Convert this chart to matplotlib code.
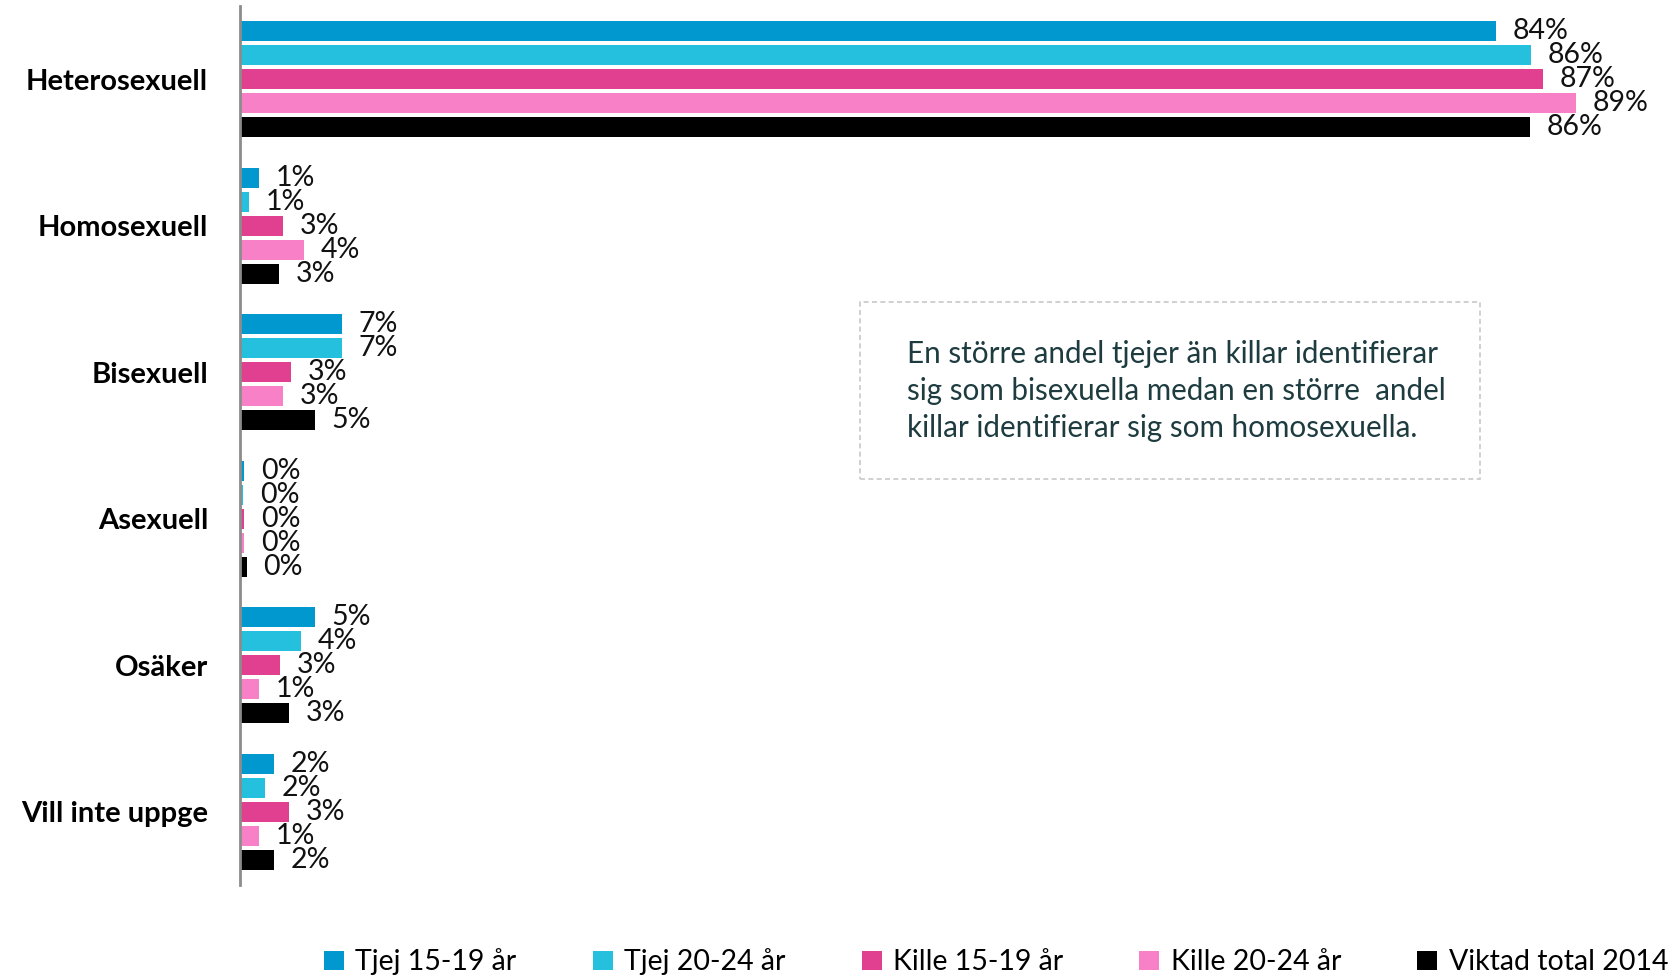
import numpy as np
import matplotlib.pyplot as plt
from matplotlib.patches import FancyBboxPatch

categories = ["Heterosexuell", "Homosexuell", "Bisexuell", "Asexuell", "Osäker", "Vill inte uppge"]
series = ["Tjej 15-19 år", "Tjej 20-24 år", "Kille 15-19 år", "Kille 20-24 år", "Viktad total 2014"]

tjej_15_19 = [84.0, 1.3, 6.8, 0.3, 5.0, 2.3]
tjej_20_24 = [86.4, 0.6, 6.8, 0.2, 4.1, 1.7]
kille_15_19 = [87.2, 2.9, 3.4, 0.3, 2.7, 3.3]
kille_20_24 = [89.4, 4.3, 2.9, 0.3, 1.3, 1.3]
viktad_total = [86.3, 2.6, 5.0, 0.45, 3.3, 2.3]

colors = ["#0098CF", "#25C0DD", "#E0408F", "#F780C6", "#000000"]
note = ("En större andel tjejer än killar identifierar\n"
        "sig som bisexuella medan en större  andel\n"
        "killar identifierar sig som homosexuella.")

plt.rcParams['font.family'] = ['Lato', 'DejaVu Sans']

fig = plt.figure(figsize=(16.81, 9.8), dpi=100)
ax = fig.add_axes([240 / 1681, 1 - 885 / 980, 1420 / 1681, 879 / 980])

data = [tjej_15_19, tjej_20_24, kille_15_19, kille_20_24, viktad_total]
y = np.arange(len(categories))
step = 24 / 147
height = 20 / 147
for i, (vals, name, col) in enumerate(zip(data, series, colors)):
    pos = y + (i - 2) * step
    bars = ax.barh(pos, vals, height=height, color=col, label=name)
    for b, v in zip(bars, vals):
        ax.annotate(f"{v:.0f}%", (b.get_width(), b.get_y() + b.get_height() / 2),
                    xytext=(12, 0), textcoords="offset points",
                    ha="left", va="center", fontsize=20.5, color="#111111")

ax.set_xlim(0, 95)
ax.set_ylim(len(categories) - 0.5, -0.5)
ax.set_yticks(y)
ax.set_yticklabels(categories, fontsize=21, fontweight="bold")
ax.tick_params(axis="y", length=0, pad=23)
ax.set_xticks([])
for s in ["top", "right", "bottom"]:
    ax.spines[s].set_visible(False)
ax.spines["left"].set_color("#8C8C8C")
ax.spines["left"].set_linewidth(2)

# comment box
box = FancyBboxPatch((860 / 1681, 1 - 479 / 980), 620 / 1681, 177 / 980,
                     boxstyle="square,pad=0", transform=fig.transFigure,
                     fill=False, edgecolor="#C8C8C8", linestyle=(0, (3, 2)), linewidth=1.2)
fig.patches.append(box)
fig.text(907 / 1681, 1 - 391 / 980, note, ha="left", va="center", fontsize=21.3,
         color="#1E3C40", linespacing=1.4)

handles, labels = ax.get_legend_handles_labels()
fig.legend(handles, labels, loc="center", bbox_to_anchor=(0.5925, 1 - 962 / 980),
           ncol=5, frameon=False, fontsize=20.5, handlelength=0.7, handleheight=0.7,
           handletextpad=0.4, columnspacing=2.68)

fig.savefig("out.png", dpi=100)
